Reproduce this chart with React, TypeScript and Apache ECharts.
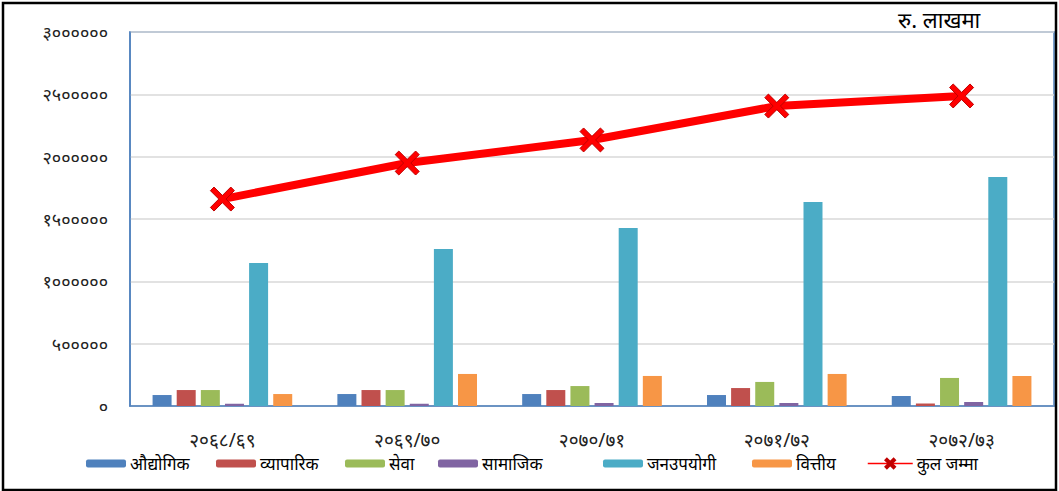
import React, { useEffect, useRef } from "react";
import * as echarts from "echarts";

const categories = ["२०६८/६९", "२०६९/७०", "२०७०/७१", "२०७१/७२", "२०७२/७३"];
const seriesNames = ["औद्योगिक", "व्यापारिक", "सेवा", "सामाजिक", "जनउपयोगी", "वित्तीय"];
const industrial = [88000, 96000, 96000, 88000, 80000];
const commercial = [128000, 128000, 128000, 144000, 20000];
const service = [128000, 128000, 160000, 193000, 225000];
const social = [18000, 18000, 24000, 24000, 32000];
const publicUtility = [1147000, 1259000, 1428000, 1636000, 1837000];
const financial = [96000, 257000, 241000, 257000, 241000];
const totalName = "कुल जम्मा";
const total = [1660000, 1949000, 2134000, 2406000, 2487000];
const yTicks = [0, 500000, 1000000, 1500000, 2000000, 2500000, 3000000];
const unitLabel = "रु. लाखमा";

const barColors = ["#4F81BD", "#C0504D", "#9BBB59", "#8064A2", "#4BACC6", "#F79646"];
const legendLefts = [86, 216, 345, 438, 603, 752, 867];

const devDigits = "०१२३४५६७८९";
const toDev = (n: number) => String(n).replace(/[0-9]/g, (d) => devDigits[+d]);

const XPATH =
  "path://M3,0 L10,7 L17,0 L20,3 L13,10 L20,17 L17,20 L10,13 L3,20 L0,17 L7,10 L0,3 Z";

export default function App() {
  const ref = useRef<HTMLDivElement>(null);
  useEffect(() => {
    if (!ref.current) return;
    const chart = echarts.init(ref.current, undefined, { renderer: "svg" });
    const barData = [industrial, commercial, service, social, publicUtility, financial];
    const font = "'Noto Sans', 'DejaVu Sans', sans-serif";
    const series: any[] = barData.map((d, i) => ({
      name: seriesNames[i],
      type: "bar",
      data: d,
      barWidth: 19,
      barGap: "27%",
      itemStyle: { color: barColors[i] },
    }));
    series.push({
      name: totalName,
      type: "line",
      data: total,
      symbol: XPATH,
      symbolSize: 24,
      z: 5,
      lineStyle: { color: "#FF0000", width: 8 },
      itemStyle: { color: "#FF0000", borderColor: "#C00000", borderWidth: 1 },
    });
    const allNames = [...seriesNames, totalName];
    const legends = allNames.map((n, i) => ({
      data: [n],
      left: legendLefts[i],
      top: 455,
      itemWidth: i === 6 ? 45 : 40,
      itemHeight: i === 6 ? 12 : 8,
      itemGap: 0,
      padding: 0,
      selectedMode: false,
      lineStyle: i === 6 ? { width: 1.5 } : undefined,
      textStyle: { fontSize: 17, color: "#000", fontFamily: font, padding: [0, 0, 0, -1] },
    }));
    chart.setOption({
      animation: false,
      backgroundColor: "#fff",
      grid: {
        left: 130,
        top: 32,
        right: 5,
        bottom: 85,
        show: true,
        borderColor: "#4F81BD",
        borderWidth: 1.5,
      },
      legend: legends,
      xAxis: {
        type: "category",
        data: categories,
        axisLine: { lineStyle: { color: "#4F81BD", width: 1.5 } },
        axisTick: { show: false },
        axisLabel: { fontSize: 19, color: "#222", margin: 24, fontFamily: font },
      },
      yAxis: {
        type: "value",
        min: 0,
        max: yTicks[yTicks.length - 1],
        interval: 500000,
        axisLine: { show: true, lineStyle: { color: "#4F81BD", width: 1.5 } },
        axisTick: { show: false },
        splitLine: { lineStyle: { color: "#D9D9D9", width: 1.5 } },
        axisLabel: {
          fontSize: 18,
          color: "#222",
          margin: 22,
          fontFamily: font,
          formatter: (v: number) => toDev(v),
        },
      },
      graphic: [
        {
          type: "rect",
          shape: { x: 3, y: 3, width: 1053, height: 487 },
          style: { fill: "none", stroke: "#000", lineWidth: 2.5 },
          z: 100,
        },
        {
          type: "text",
          left: 898,
          top: 8,
          style: { text: unitLabel, fill: "#000", font: `22px ${font}` },
          z: 100,
        },
      ],
      series,
    });
    return () => chart.dispose();
  }, []);
  return (
    <div
      ref={ref}
      style={{ position: "absolute", left: 0, top: 0, width: 1059, height: 491 }}
    />
  );
}
